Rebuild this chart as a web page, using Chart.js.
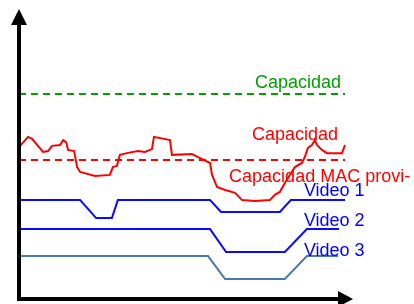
<!DOCTYPE html>
<html>
<head>
<meta charset="utf-8">
<script src="https://cdn.jsdelivr.net/npm/chart.js@4/dist/chart.umd.min.js"></script>
<style>
  html, body { margin: 0; padding: 0; background: #fff; }
</style>
</head>
<body>
<canvas id="capChart" width="414" height="304"></canvas>
<script>
// time axis 0..100, capacity axis 0..100 (arbitrary units)
const capTotalX = [0, 97.6];
const capTotalY = [70.7, 70.7];

const capMacX = [0, 97.6];
const capMacY = [47.9, 47.9];

const capRealX = [0, 2.7, 3.9, 7.2, 8.7, 9.9, 12.3, 13.2, 14.1, 14.7, 16.5, 17.4, 18.3, 22.8, 27.2,
  28.1, 29.3, 30.2, 32.3, 35.6, 37.7, 39.8, 40.4, 45.2, 45.8, 51.8, 54.2, 57.2, 57.8, 59.3, 61.7,
  64.7, 66.8, 70.7, 75.1, 76.6, 78.1, 79.6, 82.6, 84.7, 85.6, 86.5, 87.7, 88.6, 89.2, 90.7, 92.2,
  96.7, 97.6];
const capRealY = [52.4, 55.9, 55.2, 50.7, 51.0, 52.8, 53.1, 54.8, 54.1, 51.4, 51.0, 45.5, 43.8, 42.4, 42.8,
  45.5, 45.9, 49.7, 50.3, 51.0, 50.7, 51.7, 55.9, 54.8, 49.7, 50.0, 48.6, 46.9, 42.8, 38.6, 37.6,
  36.6, 34.1, 33.8, 34.1, 35.9, 36.9, 40.0, 45.5, 46.9, 49.0, 52.1, 53.1, 54.8, 53.1, 51.4, 50.3,
  50.3, 53.1];

const video1X = [0, 18.3, 23.1, 27.8, 29.6, 57.2, 60.5, 78.1, 81.4, 97.6];
const video1Y = [34.1, 34.1, 27.9, 27.9, 34.1, 34.1, 30.0, 30.0, 34.1, 34.1];

const video2X = [0, 57.2, 62.0, 79.6, 86.2, 95.8];
const video2Y = [24.1, 24.1, 16.2, 16.2, 24.1, 24.1];

const video3X = [0, 56.6, 61.7, 79.6, 86.2, 95.5];
const video3Y = [14.8, 14.8, 6.9, 6.9, 14.8, 14.8];

const labelTexts = ['Capacidad', 'Capacidad', 'Capacidad MAC provi-', 'Video 1', 'Video 2', 'Video 3'];

const toPoints = (xs, ys) => xs.map((x, i) => ({ x: x, y: ys[i] }));

// where each label sits, in data units
const labelPlaces = [
  { x: 96.4, y: 72.8, align: 'right', color: '#00a000' },
  { x: 95.5, y: 54.8, align: 'right', color: '#ff0000' },
  { x: 62.9, y: 40.3, align: 'left', color: '#ff0000' },
  { x: 85.3, y: 35.5, align: 'left', color: '#0000ff' },
  { x: 85.3, y: 25.2, align: 'left', color: '#0000ff' },
  { x: 85.3, y: 14.8, align: 'left', color: '#0000ff' }
];

const labelPlugin = {
  id: 'labels',
  afterDatasetsDraw(chart) {
    const ctx = chart.ctx;
    const xs = chart.scales.x, ys = chart.scales.y;
    ctx.save();
    ctx.font = '18px "Liberation Sans", Arial, sans-serif';
    ctx.textBaseline = 'alphabetic';
    labelTexts.forEach((t, i) => {
      const p = labelPlaces[i];
      ctx.fillStyle = p.color;
      ctx.textAlign = p.align;
      ctx.fillText(t, xs.getPixelForValue(p.x), ys.getPixelForValue(p.y));
    });
    ctx.restore();
  }
};

// black axes with arrow heads
const axesPlugin = {
  id: 'arrowAxes',
  afterDatasetsDraw(chart) {
    const ctx = chart.ctx;
    const a = chart.chartArea;
    ctx.save();
    ctx.fillStyle = '#000';
    ctx.strokeStyle = '#000';
    ctx.lineWidth = 4;
    ctx.beginPath();
    ctx.moveTo(a.left, a.bottom + 2);
    ctx.lineTo(a.left, a.top + 16);
    ctx.moveTo(a.left - 2, a.bottom);
    ctx.lineTo(a.right - 15, a.bottom);
    ctx.stroke();
    ctx.beginPath();
    ctx.moveTo(a.left, a.top);
    ctx.lineTo(a.left - 8, a.top + 16);
    ctx.lineTo(a.left + 8, a.top + 16);
    ctx.closePath();
    ctx.fill();
    ctx.beginPath();
    ctx.moveTo(a.right, a.bottom);
    ctx.lineTo(a.right - 15, a.bottom - 8);
    ctx.lineTo(a.right - 15, a.bottom + 8);
    ctx.closePath();
    ctx.fill();
    ctx.restore();
  }
};

const ctx = document.getElementById('capChart').getContext('2d');

const capChart = new Chart(ctx, {
  type: 'line',
  data: {
    datasets: [
      {
        label: 'Capacidad',
        data: toPoints(capTotalX, capTotalY),
        borderColor: '#00a000',
        borderWidth: 2,
        borderDash: [7, 5]
      },
      {
        label: 'Capacidad MAC',
        data: toPoints(capMacX, capMacY),
        borderColor: '#ff0000',
        borderWidth: 2,
        borderDash: [7, 5]
      },
      {
        label: 'Capacidad real',
        data: toPoints(capRealX, capRealY),
        borderColor: '#ff0000',
        borderWidth: 2
      },
      {
        label: 'Video 1',
        data: toPoints(video1X, video1Y),
        borderColor: '#0a0aff',
        borderWidth: 2
      },
      {
        label: 'Video 2',
        data: toPoints(video2X, video2Y),
        borderColor: '#0a0aff',
        borderWidth: 2
      },
      {
        label: 'Video 3',
        data: toPoints(video3X, video3Y),
        borderColor: '#4a78a8',
        borderWidth: 2
      }
    ]
  },
  options: {
    responsive: false,
    animation: false,
    layout: {
      padding: { left: 19, right: 61, top: 9, bottom: 5 }
    },
    elements: {
      point: { radius: 0 },
      line: { tension: 0, fill: false }
    },
    datasets: {
      line: { clip: false }
    },
    scales: {
      x: { type: 'linear', min: 0, max: 100, display: false },
      y: { type: 'linear', min: 0, max: 100, display: false }
    },
    plugins: {
      legend: { display: false },
      tooltip: { enabled: false }
    }
  },
  plugins: [labelPlugin, axesPlugin]
});
</script>
</body>
</html>
